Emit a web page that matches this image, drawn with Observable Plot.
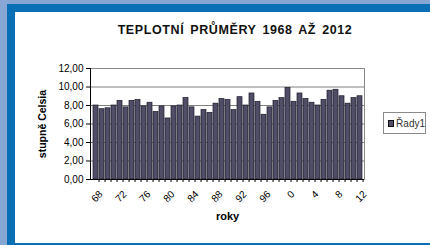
<!DOCTYPE html>
<html><head><meta charset="utf-8">
<script src="https://cdn.jsdelivr.net/npm/d3@7"></script>
<script src="https://cdn.jsdelivr.net/npm/@observablehq/plot@0.6"></script>
<style>
html,body{margin:0;padding:0;width:430px;height:245px;overflow:hidden;background:#88a6d4;font-family:"Liberation Sans",Arial,sans-serif;}
#frame{position:absolute;left:7px;top:4px;width:423px;height:241px;background:#0b6fb6;}
#white{position:absolute;left:15px;top:12px;width:415px;height:231px;background:#fff;}
#title{position:absolute;left:235px;top:23px;transform:translateX(-50%);white-space:nowrap;font-weight:bold;font-size:12.5px;letter-spacing:0.6px;word-spacing:2px;color:#111;}
#chart{position:absolute;left:15px;top:12px;}
#legend{position:absolute;left:383px;top:112px;width:43px;height:22px;border:1px solid #8a8a8a;background:#fff;font-size:10px;display:flex;align-items:center;box-sizing:border-box;padding-left:4px;color:#333;}
#legend .sw{width:5px;height:5px;background:#4f4e66;border:1px solid #111;margin-right:2px;}
</style>
</head><body>
<div id="frame"></div>
<div id="white"></div>
<div id="title">TEPLOTNÍ PRŮMĚRY 1968 AŽ 2012</div>
<div id="chart"></div>
<div id="legend"><span class="sw"></span><span>Řady1</span></div>
<script>
const years = [1968,1969,1970,1971,1972,1973,1974,1975,1976,1977,1978,1979,1980,1981,1982,1983,1984,1985,1986,1987,1988,1989,1990,1991,1992,1993,1994,1995,1996,1997,1998,1999,2000,2001,2002,2003,2004,2005,2006,2007,2008,2009,2010,2011,2012];
const temps = [8.0,7.6,7.7,8.0,8.5,7.8,8.5,8.6,7.9,8.3,7.3,7.9,6.6,7.9,8.0,8.8,7.8,6.8,7.5,7.2,8.2,8.7,8.6,7.5,8.9,8.0,9.3,8.4,7.0,7.8,8.5,8.8,9.9,8.4,9.3,8.7,8.3,8.0,8.6,9.6,9.7,9.0,8.2,8.8,9.0];
const tickYears = [1968,1972,1976,1980,1984,1988,1992,1996,2000,2004,2008,2012];
const tickLabels = ["68","72","76","80","84","88","92","96","0","4","8","12"];
const yTicks = [0,2,4,6,8,10,12];
const seriesName = "Řady1";

const data = years.map((y,i)=>({year:y, temp:temps[i]}));
const W = 415, H = 231, mL = 75, mR = 66, mT = 56, mB = 64;
const pIn = 0.22, pOut = 0.1;
const step = (W - mL - mR) / (years.length - pIn + 2*pOut);
const labelMap = new Map(tickYears.map((y,i)=>[y,tickLabels[i]]));

const chart = Plot.plot({
  width: W, height: H,
  marginLeft: mL, marginRight: mR, marginTop: mT, marginBottom: mB,
  style: {fontFamily: '"Liberation Sans", Arial, sans-serif', fontSize: "10px", color: "#000", background: "transparent"},
  x: {type: "band", domain: years, paddingInner: pIn, paddingOuter: pOut, axis: null},
  y: {domain: [0, 12], axis: null},
  marks: [
    Plot.ruleY(yTicks.filter(d => d > 0), {stroke: "#808080", strokeWidth: 1}),
    Plot.frame({stroke: "#8a8a8a"}),
    Plot.barY(data, {x: "year", y: "temp", fill: "#4f4e66", stroke: "#1a1a28", strokeWidth: 0.7}),
    Plot.axisX(years, {tickSize: 3, tickFormat: () => "", dx: step/2, stroke: "#000", label: null}),
    Plot.axisX(tickYears, {tickSize: 0, tickRotate: -45, tickPadding: 13, dx: 5, tickFormat: d => labelMap.get(d), fontSize: 10, label: null}),
    Plot.axisY(yTicks, {tickSize: 4, tickPadding: 3, tickFormat: d => d.toFixed(2).replace(".", ","), fontSize: 10, label: null}),
    Plot.ruleY([0], {stroke: "#000"}),
    Plot.frame({anchor: "left", stroke: "#000"}),
    Plot.text([seriesName].map(() => "stupně Celsia"), {frameAnchor: "left", rotate: -90, dx: -48, textAnchor: "middle", fontWeight: "bold", fontSize: 10.5}),
    Plot.text(["roky"], {frameAnchor: "bottom", dy: 40, textAnchor: "middle", fontWeight: "bold", fontSize: 11})
  ]
});
document.getElementById("chart").appendChild(chart);
</script>
</body></html>
